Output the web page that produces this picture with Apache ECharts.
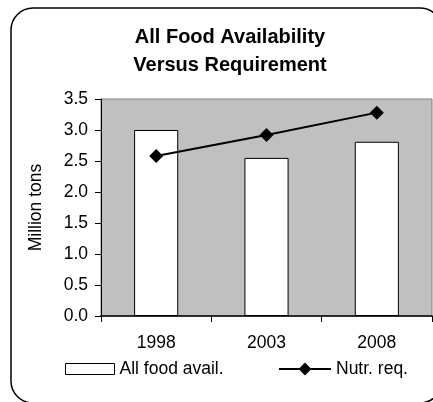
<!DOCTYPE html>
<html>
<head>
<meta charset="utf-8">
<script src="https://cdn.jsdelivr.net/npm/echarts@6/dist/echarts.min.js"></script>
<style>
html,body{margin:0;padding:0;background:#fff;}
#c{width:433px;height:402px;}
</style>
</head>
<body>
<div id="c"></div>
<script>
var categories = ['1998', '2003', '2008'];
var foodAvail = [3.0, 2.55, 2.81];
var nutrReq = [2.58, 2.92, 3.28];
var yTicks = [0, 0.5, 1.0, 1.5, 2.0, 2.5, 3.0, 3.5];

var FONT = 'Liberation Sans, Arial, sans-serif';
var FS = 17.5;
var chart = echarts.init(document.getElementById('c'), null, {renderer: 'canvas'});
chart.setOption({
  animation: false,
  backgroundColor: '#fff',
  title: {
    text: 'All Food Availability\nVersus Requirement',
    left: 225, top: 18, textAlign: 'center',
    textStyle: {fontFamily: FONT, fontSize: 20, fontWeight: 'bold', color: '#000', lineHeight: 28}
  },
  graphic: [{
    type: 'rect', silent: true, z: 100,
    shape: {x: 11, y: 8, width: 431, height: 395, r: 22},
    style: {fill: 'none', stroke: '#000', lineWidth: 1.5}
  }],
  legend: [{
    data: [{name: 'All food avail.', icon: 'rect'}],
    left: 65, top: 360,
    itemWidth: 49, itemHeight: 11, itemGap: 5,
    itemStyle: {color: '#fff', borderColor: '#000', borderWidth: 1},
    textStyle: {fontFamily: FONT, fontSize: FS, color: '#000'},
    padding: 0
  }, {
    data: ['Nutr. req.'],
    left: 278, top: 360,
    itemWidth: 52, itemHeight: 16,
    lineStyle: {width: 2, color: '#000'},
    textStyle: {fontFamily: FONT, fontSize: FS, color: '#000'},
    padding: 0
  }],
  grid: {
    left: 101, right: 1, top: 99, bottom: 86,
    show: true, backgroundColor: '#c0c0c0', borderColor: '#808080', borderWidth: 1
  },
  xAxis: {
    type: 'category', data: categories, boundaryGap: true,
    axisLine: {lineStyle: {color: '#000', width: 1.5}},
    axisTick: {show: true, length: 6, lineStyle: {color: '#000'}},
    axisLabel: {fontFamily: FONT, fontSize: FS, color: '#000', margin: 18}
  },
  yAxis: {
    type: 'value', min: yTicks[0], max: yTicks[yTicks.length - 1], interval: 0.5,
    name: 'Million tons', nameLocation: 'middle', nameGap: 56,
    nameTextStyle: {fontFamily: FONT, fontSize: FS, color: '#000'},
    axisLine: {show: true, lineStyle: {color: '#000', width: 1}},
    axisTick: {show: true, length: 6, lineStyle: {color: '#000'}},
    splitLine: {show: false},
    axisLabel: {fontFamily: FONT, fontSize: FS, color: '#000', margin: 13,
      formatter: function (v) { return v.toFixed(1); }}
  },
  series: [{
    name: 'All food avail.', type: 'bar', data: foodAvail, barWidth: '40%',
    itemStyle: {color: '#fff', borderColor: '#000', borderWidth: 1}
  }, {
    name: 'Nutr. req.', type: 'line', data: nutrReq,
    symbol: 'diamond', symbolSize: 14,
    lineStyle: {color: '#000', width: 2},
    itemStyle: {color: '#000'}
  }]
});
</script>
</body>
</html>
